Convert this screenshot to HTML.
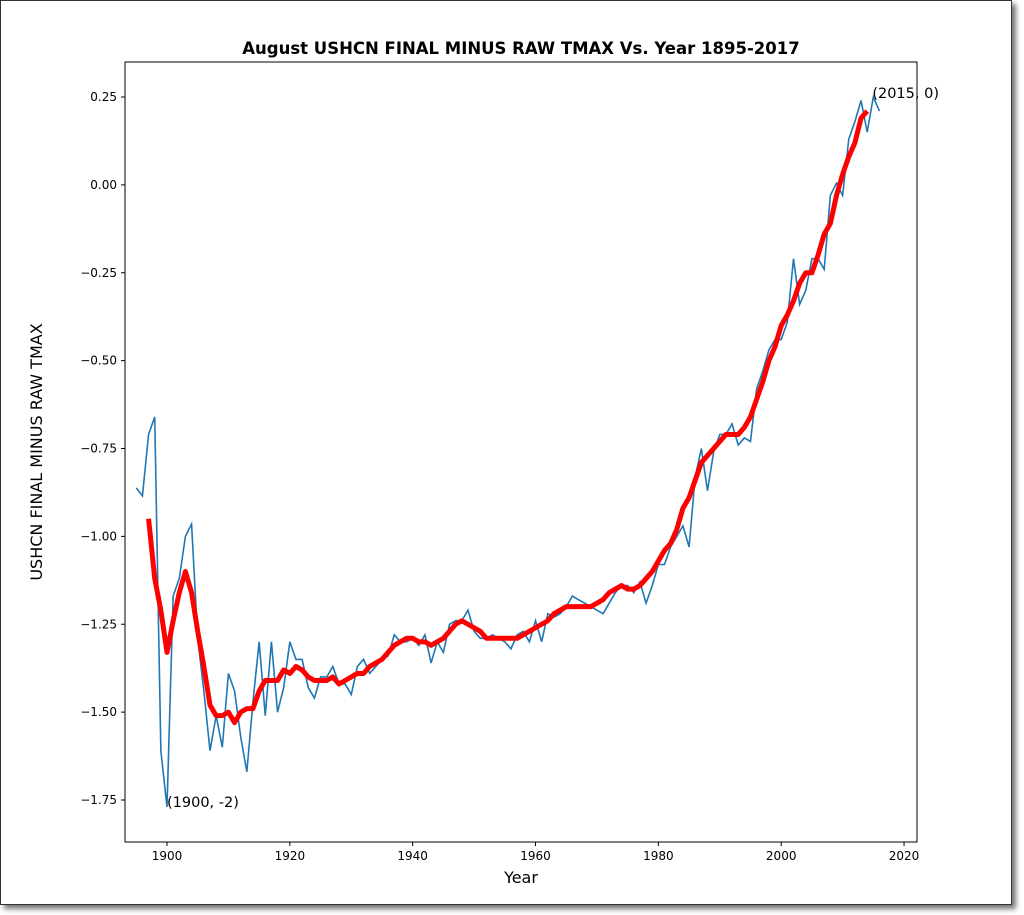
<!DOCTYPE html>
<html><head><meta charset="utf-8"><style>
html,body{margin:0;padding:0;background:#fff;}
#frame{position:absolute;left:0;top:0;width:1010px;height:903px;border:1px solid #333;background:#fff;box-shadow:4px 4px 5px #777;}
svg{position:absolute;left:0;top:0;}
text{font-family:"DejaVu Sans","Liberation Sans",sans-serif;fill:#000;}
</style></head><body>
<div id="frame"></div>
<svg id="chart" width="1024" height="915"></svg>
<script>
const years = [];
for (let y = 1895; y <= 2016; y++) years.push(y);
const rawValues = [-0.862,-0.885,-0.71,-0.66,-1.61,-1.77,-1.17,-1.12,-1.0,-0.965,
-1.29,-1.44,-1.61,-1.51,-1.60,-1.39,-1.44,-1.57,-1.67,-1.47,
-1.30,-1.51,-1.30,-1.50,-1.43,-1.30,-1.35,-1.35,-1.43,-1.46,
-1.40,-1.40,-1.37,-1.42,-1.42,-1.45,-1.37,-1.35,-1.39,-1.37,
-1.35,-1.34,-1.28,-1.30,-1.30,-1.29,-1.31,-1.28,-1.36,-1.30,
-1.33,-1.25,-1.24,-1.24,-1.21,-1.27,-1.29,-1.29,-1.28,-1.29,
-1.30,-1.32,-1.28,-1.27,-1.30,-1.24,-1.30,-1.22,-1.23,-1.22,
-1.20,-1.17,-1.18,-1.19,-1.20,-1.21,-1.22,-1.19,-1.16,-1.14,
-1.14,-1.16,-1.13,-1.19,-1.14,-1.08,-1.08,-1.03,-1.0,-0.97,
-1.03,-0.83,-0.75,-0.87,-0.76,-0.71,-0.71,-0.68,-0.74,-0.72,
-0.73,-0.58,-0.53,-0.47,-0.44,-0.44,-0.39,-0.21,-0.34,-0.30,
-0.21,-0.21,-0.24,-0.03,0.005,-0.03,0.13,0.18,0.24,0.15,0.25,0.21];
const smoothYears = [];
for (let y = 1897; y <= 2014; y++) smoothYears.push(y);
const smoothValues = [-0.95,-1.12,-1.21,-1.33,-1.24,-1.16,-1.10,-1.16,-1.27,-1.37,
-1.48,-1.51,-1.51,-1.50,-1.53,-1.50,-1.49,-1.49,-1.44,-1.41,
-1.41,-1.41,-1.38,-1.39,-1.37,-1.38,-1.40,-1.41,-1.41,-1.41,
-1.40,-1.42,-1.41,-1.40,-1.39,-1.39,-1.37,-1.36,-1.35,-1.33,
-1.31,-1.30,-1.29,-1.29,-1.30,-1.30,-1.31,-1.30,-1.29,-1.27,
-1.25,-1.24,-1.25,-1.26,-1.27,-1.29,-1.29,-1.29,-1.29,-1.29,
-1.29,-1.28,-1.27,-1.26,-1.25,-1.24,-1.22,-1.21,-1.20,-1.20,
-1.20,-1.20,-1.20,-1.19,-1.18,-1.16,-1.15,-1.14,-1.15,-1.15,
-1.14,-1.12,-1.10,-1.07,-1.04,-1.02,-0.98,-0.92,-0.89,-0.84,
-0.79,-0.77,-0.75,-0.73,-0.71,-0.71,-0.71,-0.69,-0.66,-0.61,
-0.56,-0.50,-0.46,-0.40,-0.37,-0.33,-0.28,-0.25,-0.25,-0.20,
-0.14,-0.11,-0.03,0.03,0.08,0.12,0.19,0.21];
const xTicks = [1900,1920,1940,1960,1980,2000,2020];
const yTicks = [0.25,0,-0.25,-0.5,-0.75,-1,-1.25,-1.5,-1.75];
const yTickLabels = ["0.25","0.00","\u22120.25","\u22120.50","\u22120.75","\u22121.00","\u22121.25","\u22121.50","\u22121.75"];

const NS = "http://www.w3.org/2000/svg";
const svg = document.getElementById('chart');
const L=125,R=917,T=62,B=842;
const xs = yr => 167 + (yr-1900)*6.142;
const ys = v => 97 + (0.25 - v)*351.5;
function mk(tag, attrs, parent){const e=document.createElementNS(NS,tag);for(const k in attrs)e.setAttribute(k,attrs[k]);(parent||svg).appendChild(e);return e;}

const clip = mk('clipPath',{id:'pc'}); mk('rect',{x:L,y:T,width:R-L,height:B-T},clip);

let e = mk('polyline',{points:years.map((y,i)=>xs(y)+','+ys(rawValues[i])).join(' '),fill:'none',stroke:'#1f77b4','stroke-width':1.6,'clip-path':'url(#pc)'});
 
e = mk('polyline',{points:smoothYears.map((y,i)=>xs(y)+','+ys(smoothValues[i])).join(' '),fill:'none',stroke:'#ff0000','stroke-width':5,'stroke-linejoin':'round','clip-path':'url(#pc)'});
 

e = mk('rect',{x:L,y:T,width:R-L,height:B-T,fill:'none',stroke:'#000','stroke-width':1});
 

xTicks.forEach(t=>{
  const x=xs(t);
  mk('line',{x1:x,x2:x,y1:B,y2:B+4,stroke:'#000'});
  const tx=mk('text',{x:x,y:B+18,'text-anchor':'middle','font-size':12});
  tx.textContent=t;
   
});
yTicks.forEach((t,i)=>{
  const y=ys(t);
  mk('line',{x1:L-4,x2:L,y1:y,y2:y,stroke:'#000'});
  const tx=mk('text',{x:L-8,y:y+4,'text-anchor':'end','font-size':12});
  tx.textContent=yTickLabels[i];
   
});

e=mk('text',{x:521,y:54,'text-anchor':'middle','font-size':16.5,'font-weight':'bold'});
e.textContent='August USHCN FINAL MINUS RAW TMAX Vs. Year 1895-2017';
 
e=mk('text',{x:521,y:883,'text-anchor':'middle','font-size':16});
e.textContent='Year';
 
e=mk('text',{x:42,y:452,'text-anchor':'middle','font-size':16,transform:'rotate(-90 42 452)'});
e.textContent='USHCN FINAL MINUS RAW TMAX';
 
e=mk('text',{x:xs(1900),y:807,'font-size':14.5});
e.textContent='(1900, -2)';
 
e=mk('text',{x:xs(2015)-1,y:98,'font-size':14.5});
e.textContent='(2015, 0)';
 
</script>
</body></html>
